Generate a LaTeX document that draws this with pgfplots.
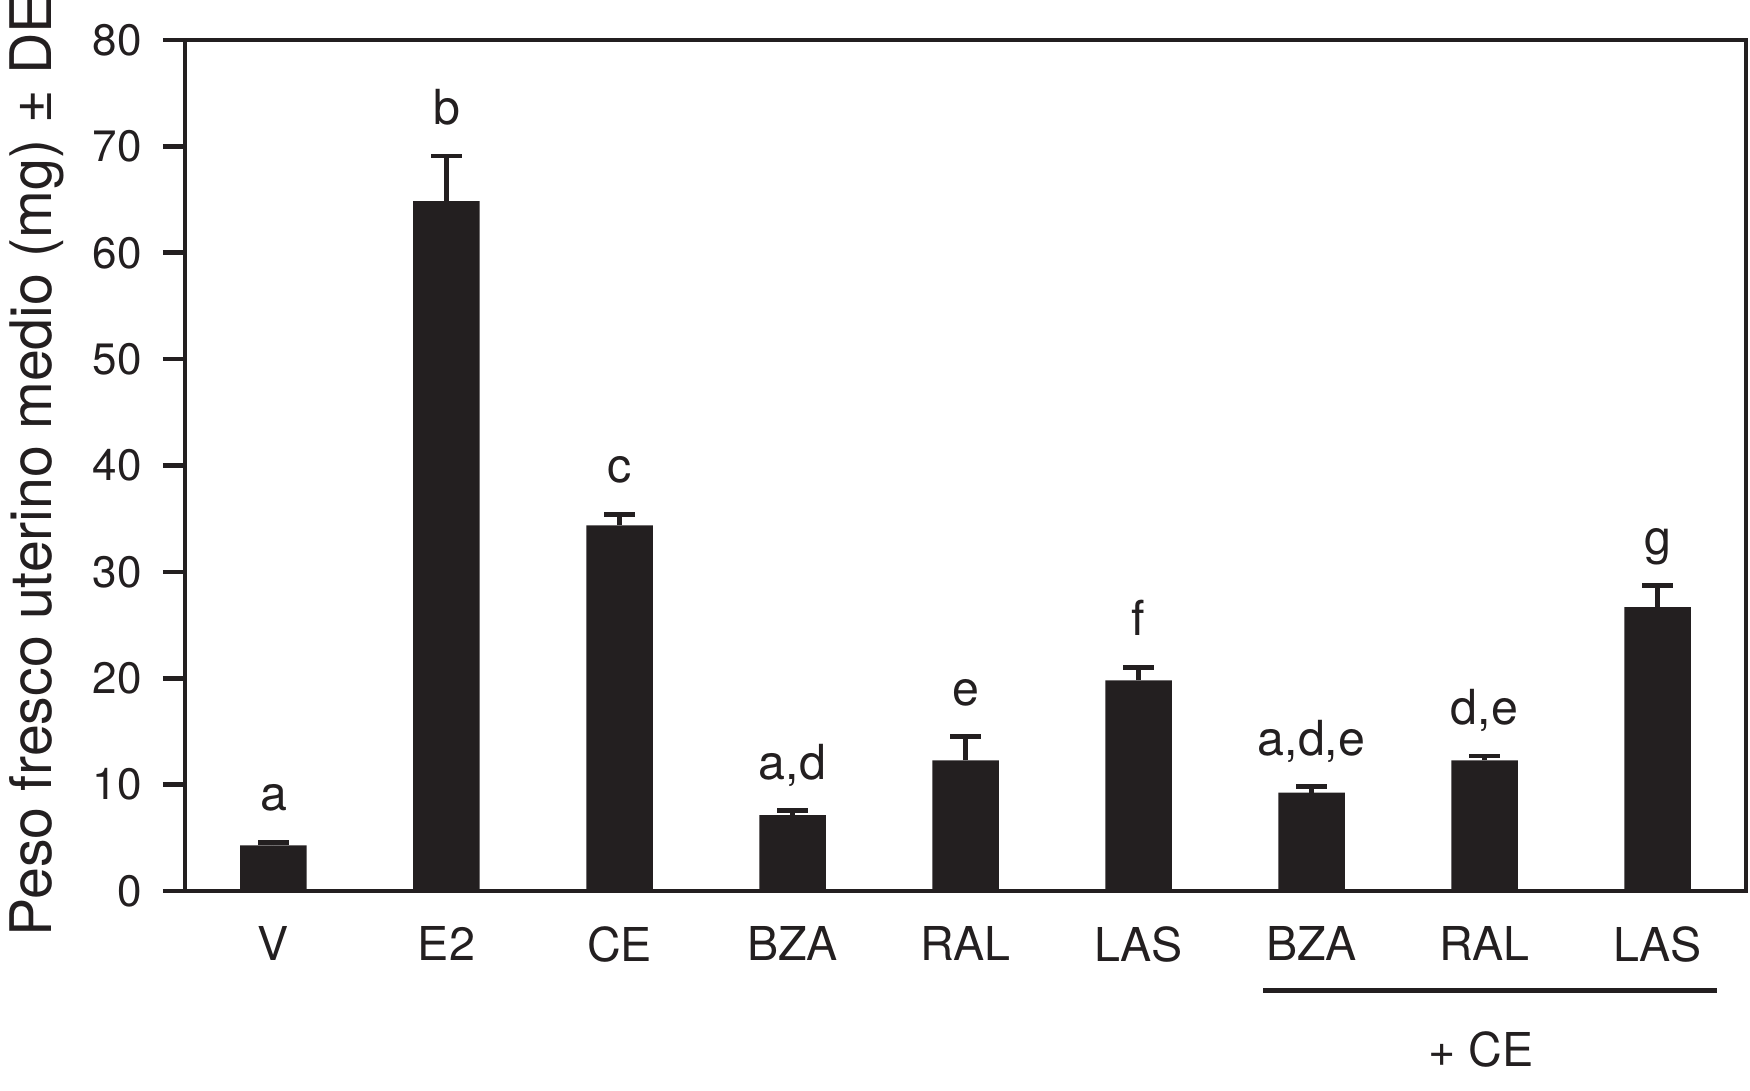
\documentclass[border=0pt]{standalone}
\usepackage{fontspec}
\setmainfont{TeX Gyre Heros}
\usepackage{pgfplots}
\usepackage{pgfplotstable}
\pgfplotsset{compat=1.18}
\definecolor{barblack}{HTML}{231F20}

\pgfplotstableread{
x  y      err
0  4.30   0.26
1  64.85  4.25
2  34.37  1.03
3  7.14   0.40
4  12.28  2.22
5  19.80  1.20
6  9.24   0.56
7  12.28  0.41
8  26.69  2.00
}\bardata

\pgfplotstableread{
x  cap    lab
0  4.56   a
1  69.10  b
2  35.40  c
3  7.54   a,d
4  14.50  e
5  21.00  f
6  9.80   a,d,e
7  12.69  d,e
8  28.69  g
}\labdata

\begin{document}
\begin{tikzpicture}
\useasboundingbox (-55.5pt,-59.7pt) rectangle (469.5pt,267.3pt);
\begin{axis}[
  at={(0,0)}, anchor=south west,
  scale only axis,
  width=468.3pt, height=255.3pt,
  xmin=-0.5115, xmax=8.5115,
  ymin=0, ymax=80,
  ytick={0,10,...,80},
  xtick={0,1,...,8},
  xticklabels={V,E2,CE,BZA,RAL,LAS,BZA,RAL,LAS},
  x tick style={draw=none},
  ytick pos=left,
  tick align=outside,
  major tick length=6.6pt,
  y tick style={line width=1.4pt, color=barblack},
  axis line style={line width=1.4pt, color=barblack},
  /pgf/number format/assume math mode=true,
  yticklabel style={font=\fontsize{13.2}{15}\selectfont, anchor=east, inner sep=0pt, xshift=-6.2pt, text=barblack},
  xticklabel style={font=\fontsize{14}{16}\selectfont, anchor=north, inner sep=0pt, yshift=-3.9pt, text=barblack},
  ylabel={Peso fresco uterino medio (mg) ± DE},
  ylabel style={at={(axis description cs:-0.0858,0.5)}, anchor=base, rotate=0, font=\fontsize{17.2}{20}\selectfont, text=barblack, inner sep=0pt},
  clip=false,
]
\addplot[ybar, bar width=19.95pt, fill=barblack, draw=none,
  error bars/.cd, y dir=plus, y explicit,
  error bar style={line width=1.35pt, color=barblack},
  error mark options={rotate=90, mark size=4.6pt, line width=1.4pt, color=barblack}]
  table[x=x, y=y, y error=err] {\bardata};
\addplot[only marks, mark=none, nodes near coords, point meta=explicit symbolic,
  every node near coord/.append style={anchor=base, yshift=9.5pt, inner sep=0pt, font=\fontsize{14.5}{16}\selectfont, text=barblack}]
  table[x=x, y=cap, meta=lab] {\labdata};
\draw[line width=1.5pt, color=barblack] (axis cs:5.72,-9.4) -- (axis cs:8.346,-9.4);
\node[anchor=base, inner sep=0pt, font=\fontsize{14}{16}\selectfont, text=barblack] at (axis cs:6.98,-16.54) {+ CE};
\end{axis}
\end{tikzpicture}
\end{document}
